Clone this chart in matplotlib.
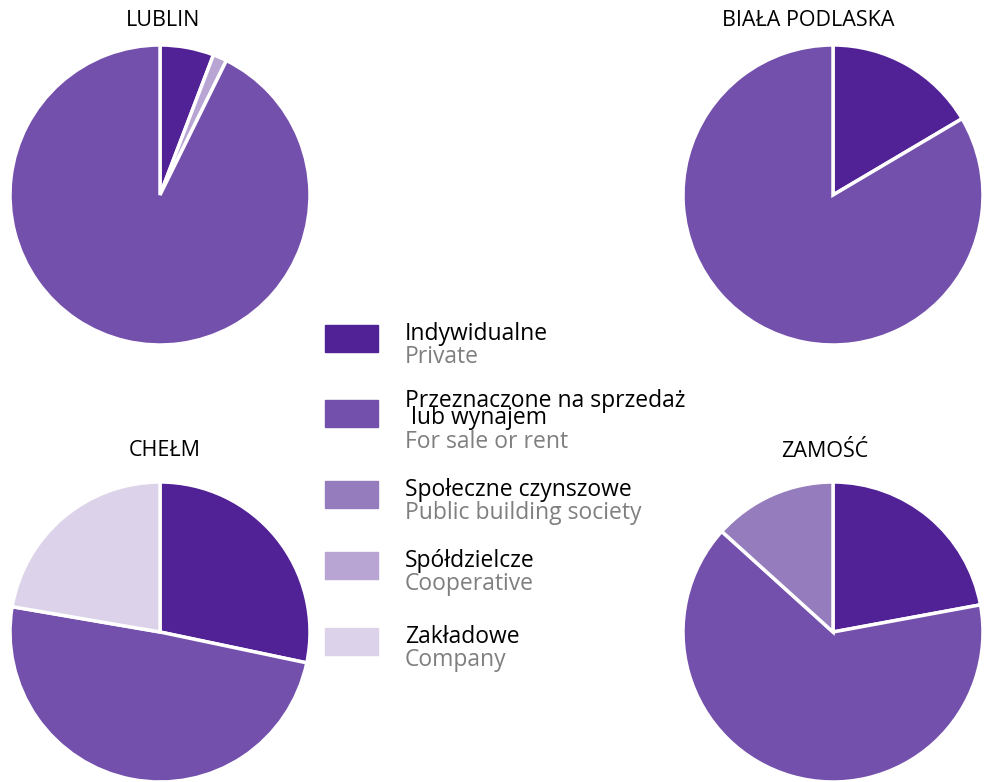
import matplotlib.pyplot as plt

plt.rcParams['font.family'] = ['Open Sans', 'DejaVu Sans']

# categories (legend)
labels_pl = ["Indywidualne", "Przeznaczone na sprzedaż\n lub wynajem",
             "Społeczne czynszowe", "Spółdzielcze", "Zakładowe"]
labels_en = ["Private", "For sale or rent", "Public building society",
             "Cooperative", "Company"]
colors = ["#512196", "#7450ad", "#957dbd", "#b8a5d4", "#dcd3ea"]

# share of dwellings, % (index = category)
lublin = [5.8, 92.7, 0.0, 1.5, 0.0]
biala = [16.5, 83.5, 0.0, 0.0, 0.0]
chelm = [28.3, 49.4, 0.0, 0.0, 22.3]
zamosc = [22.1, 64.6, 13.3, 0.0, 0.0]

# clockwise order of slices starting at 12 o'clock
lublin_order = [0, 3, 1]
default_order = [0, 1, 2, 3, 4]

W, H = 985, 782
fig = plt.figure(figsize=(W / 100, H / 100), dpi=100)


def draw_pie(cx, cy, vals, order, title, tx, ty):
    r = 150
    ax = fig.add_axes([(cx - r) / W, 1 - (cy + r) / H, 2 * r / W, 2 * r / H])
    idx = [i for i in order if vals[i] > 0]
    ax.pie([vals[i] for i in idx], colors=[colors[i] for i in idx],
           startangle=90, counterclock=False, radius=1,
           wedgeprops=dict(edgecolor="white", linewidth=2.5))
    ax.set_xlim(-1, 1)
    ax.set_ylim(-1, 1)
    ax.set_aspect("equal")
    ax.axis("off")
    fig.text(tx / W, 1 - ty / H, title, ha="center", va="center", fontsize=15.5)


draw_pie(160, 195, lublin, lublin_order, "LUBLIN", 163, 21)
draw_pie(833, 195, biala, default_order, "BIAŁA PODLASKA", 808, 21)
draw_pie(160, 632, chelm, default_order, "CHEŁM", 165, 450)
draw_pie(833, 632, zamosc, default_order, "ZAMOŚĆ", 825, 452)

# legend
fs = 16.5
ys = [339, 414, 495, 566, 642]
for i in range(5):
    y = ys[i]
    fig.patches.append(plt.Rectangle((325 / W, 1 - (y + 13) / H), 53 / W, 27 / H,
                                     transform=fig.transFigure, color=colors[i]))
    if i == 1:
        line1, line2 = labels_pl[i].split("\n")
        fig.text(405 / W, 1 - 401 / H, line1, ha="left", va="center",
                 fontsize=fs, color="black")
        fig.text(405 / W, 1 - 418 / H, line2, ha="left", va="center",
                 fontsize=fs, color="black")
        fig.text(405 / W, 1 - 442 / H, labels_en[i], ha="left", va="center",
                 fontsize=fs, color="#7f7f7f")
    else:
        fig.text(405 / W, 1 - (y - 5) / H, labels_pl[i], ha="left", va="center",
                 fontsize=fs, color="black")
        fig.text(405 / W, 1 - (y + 18) / H, labels_en[i], ha="left", va="center",
                 fontsize=fs, color="#7f7f7f")

plt.savefig("out.png", dpi=100)
